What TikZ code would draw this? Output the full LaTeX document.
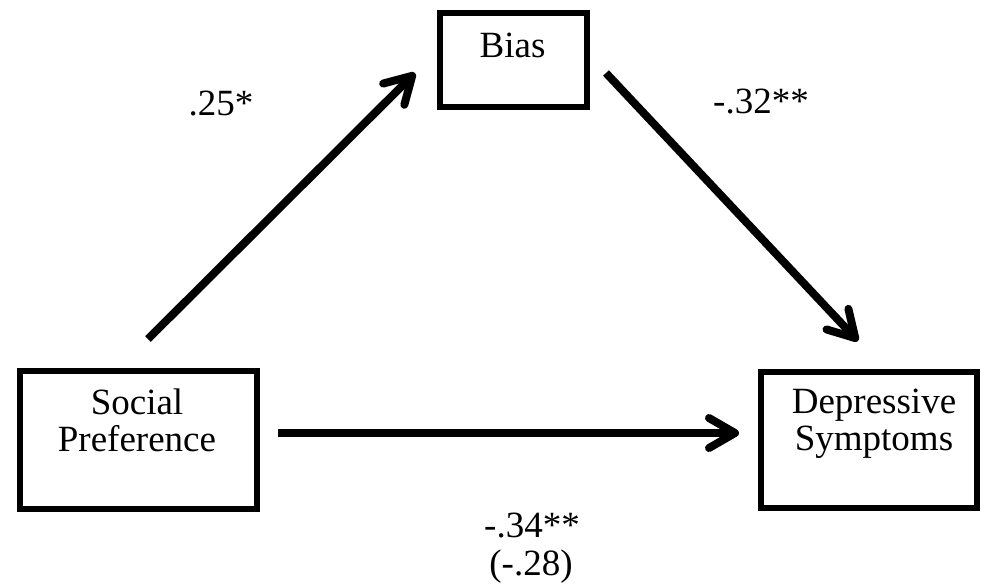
\documentclass[tikz,border=0pt]{standalone}
\usepackage{fontspec}
\setmainfont{Liberation Serif}
\usetikzlibrary{arrows.meta}
\begin{document}
\begin{tikzpicture}[x=0.5pt,y=-0.5pt,
  box/.style={draw, line width=3pt, inner sep=0pt},
  conn/.style={line width=4pt, line cap=butt,
    -{Straight Barb[length=13pt,width=15pt,line cap=round,line join=round]}},
  txt/.style={font=\fontsize{18.5}{18.5}\selectfont, inner sep=0pt, anchor=base, align=center}]
\useasboundingbox (0,0) rectangle (984,585);

% variable boxes
\node[box, minimum width=73.5pt, minimum height=47pt] (bias) at (513.5,60) {};
\node[box, minimum width=118.5pt, minimum height=69pt] (sp) at (138.5,440) {};
\node[box, minimum width=108pt, minimum height=68pt] (ds) at (869,440) {};

% box captions (anchor=base sits on the last line)
\node[txt] (biastxt) at (512.5,57) {Bias};
\node[txt] (sptxt) at (137,451) {Social\\Preference};
\node[txt] (dstxt) at (874,450) {Depressive\\Symptoms};

% arrow end points, placed off the boxes
\coordinate (a1s) at ([shift={(9.5,-29)}]sp.north);
\coordinate (a1e) at ([shift={(-22,-37)}]bias.south west);
\coordinate (a2s) at ([shift={(16,13)}]bias.east);
\coordinate (a2e) at ([shift={(-11,-28)}]ds.north);

% paths
\draw[conn] (a1s) -- (a1e);
\draw[conn] (a2s) -- (a2e);
\draw[conn, shorten <=9pt, shorten >=9.5pt] ([yshift=3.5pt]sp.east) -- ([yshift=3.5pt]ds.west);

% path coefficients
\node[txt] (c1) at (221,115) {.25*};
\node[txt] (c2) at (761,113) {-.32**};
\node[txt] (c3) at (532,537) {-.34**};
\node[txt] (c4) at (531,575) {(-.28)};
\end{tikzpicture}
\end{document}
